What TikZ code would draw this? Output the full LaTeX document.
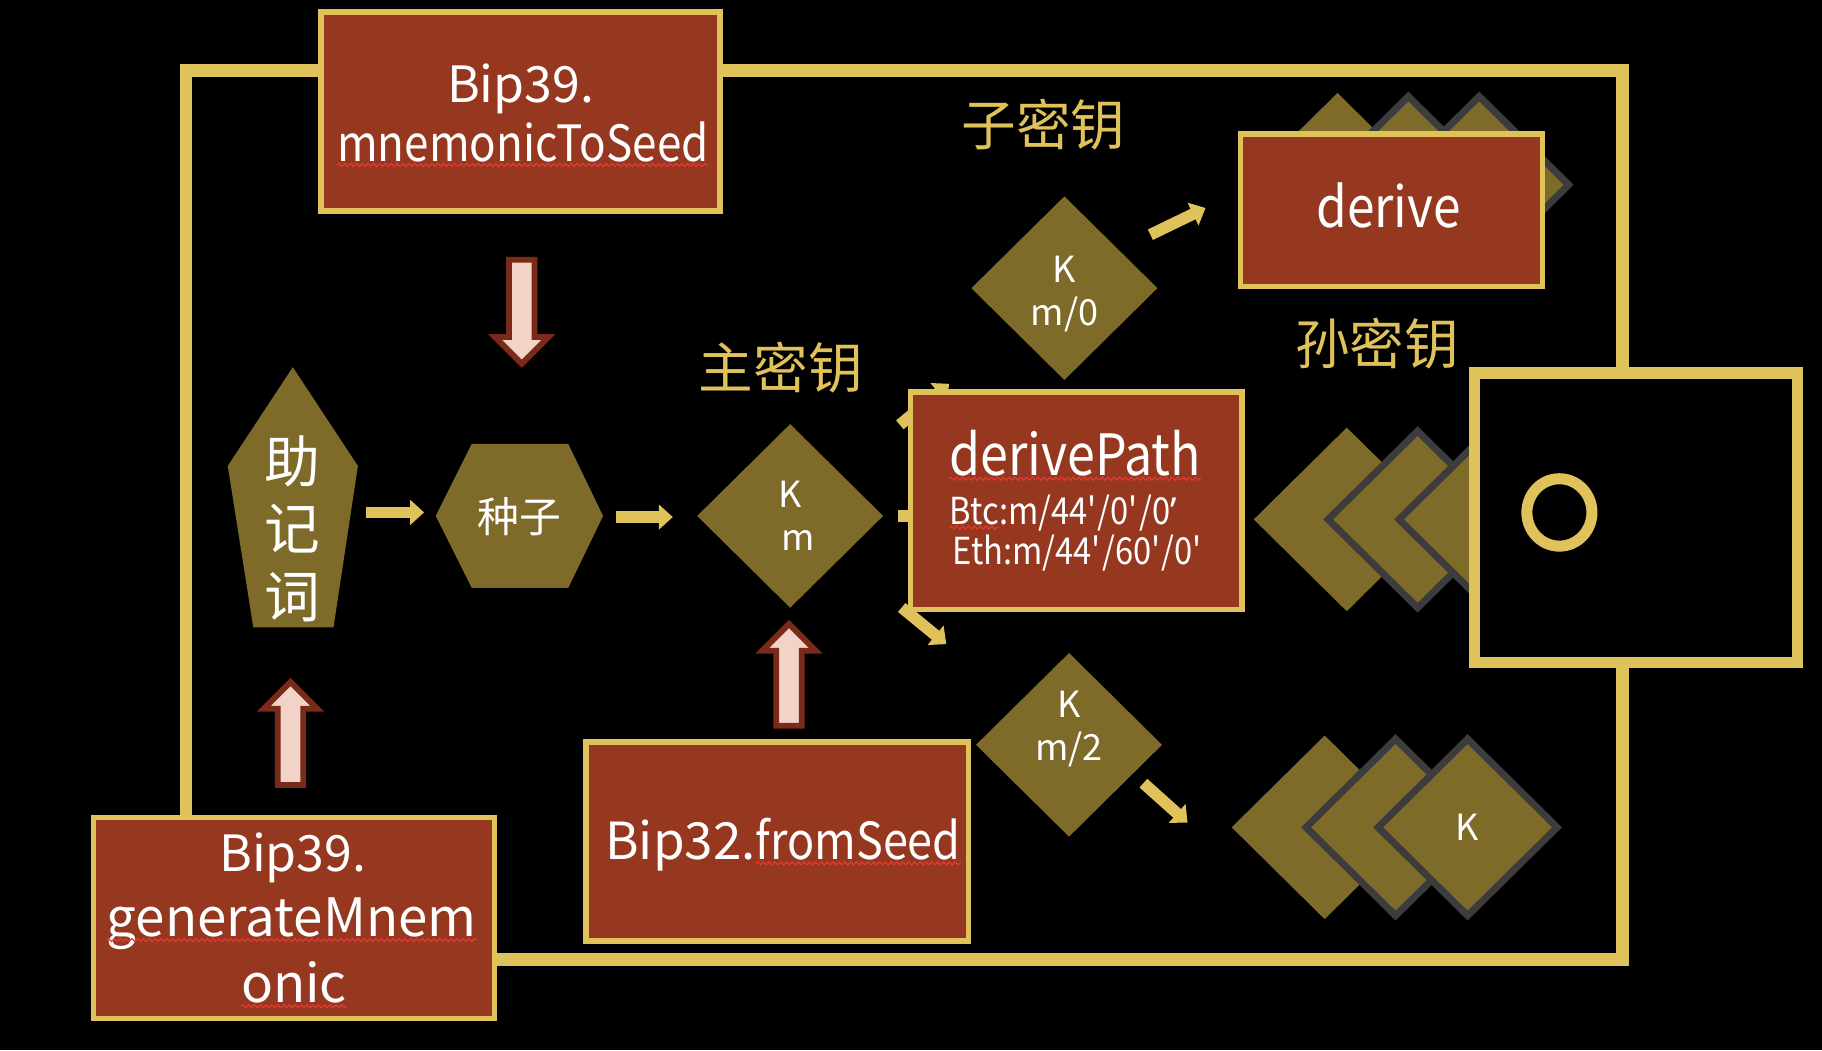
\documentclass[tikz,border=0pt]{standalone}
\usepackage{fontspec}
\setmainfont{Noto Sans CJK SC}
\newfontfamily\latinfont{Noto Sans}
\newfontfamily\narrowfont{Noto Sans CJK SC}[FakeStretch=0.88]
\usepackage{tikz}
\usetikzlibrary{positioning, arrows.meta, shapes.geometric, calc, decorations.pathmorphing}
\definecolor{gold}{HTML}{E0C25A}
\definecolor{brick}{HTML}{96381F}
\definecolor{olivebox}{HTML}{7E6A29}
\definecolor{slate}{HTML}{3C3C3C}
\definecolor{blush}{HTML}{F2D3C8}
\definecolor{rust}{HTML}{7A2A18}
\definecolor{spellred}{HTML}{E53935}
\tikzset{
  redbox/.style    = {rectangle, draw=gold, line width=5pt, fill=brick,
                      inner sep=0pt, outer sep=0pt},
  kdiam/.style     = {diamond, fill=olivebox, inner sep=0pt, outer sep=0pt,
                      minimum width=160pt, minimum height=158pt, text=white,
                      align=center, font=\fontsize{31}{37}\selectfont},
  kdiamo/.style    = {kdiam, draw=slate, line width=6pt,
                      minimum width=154pt, minimum height=152pt},
  wtxt/.style      = {text=white, inner sep=0pt, outer sep=0pt},
  ktxt/.style      = {wtxt, align=center, font=\fontsize{31}{37}\selectfont},
  gtxt/.style      = {text=gold, inner sep=0pt, font=\fontsize{47}{47}\selectfont},
  yarrow/.style    = {-{Triangle[length=12pt,width=21pt]}, draw=gold, line width=10pt},
  pinkarrow/.style = {draw=rust, fill=blush, line width=5pt, line join=miter},
  wavy/.style      = {draw=spellred, line width=1pt, decorate,
                      decoration={snake, amplitude=1.3pt, segment length=5pt}},
}
% #1 tail, #2 tip, #3 head length (signed)
\newcommand{\fatarrow}[3]{%
  \draw[pinkarrow] ($(#1)+(-11,0)$) -- ($(#2)+(-11,#3)$) -- ($(#2)+(-23,#3)$) -- (#2)
    -- ($(#2)+(23,#3)$) -- ($(#2)+(11,#3)$) -- ($(#1)+(11,0)$) -- cycle;}

\begin{document}
\begin{tikzpicture}[x=1pt, y=-1pt,
    plate/.style={fill=olivebox},
    shape area/.style={inner sep=0pt, outer sep=0pt},
  ]
  \path[use as bounding box, fill=black] (0,0) rectangle (1568,904);

  % outer loop
  \draw[draw=gold, line width=11pt] (160,61) rectangle (1396,826);

  % key stacks
  \node[kdiam]  (kt1) at (1151,159) {};
  \node[kdiamo] (kt2) at (1212,159) {};
  \node[kdiamo] (kt3) at (1273,159) {};
  \node[kdiam]  (kc1) at (1159,447) {};
  \node[kdiamo] (kc2) at (1220,447) {};
  \node[kdiamo] (kc3) at (1281,447) {};
  \node[kdiam]  (kb1) at (1140,712) {};
  \node[kdiamo] (kb2) at (1201,712) {};
  \node[kdiamo] (kb3) at (1263,712) {K};

  % mnemonic and seed
  \node[shape area, minimum width=112pt, minimum height=224pt] (mnem) at (252,428) {};
  \fill[plate] (mnem.north) -- ($(mnem.north east)+(0,85)$) -- ($(mnem.south east)+(-21,0)$)
    -- ($(mnem.south west)+(22,0)$) -- ($(mnem.north west)+(0,85)$) -- cycle;
  \node[wtxt, align=center, font=\fontsize{48}{58}\selectfont] (mnemtxt) at (252,455) {助\\记\\词};

  \node[shape area, minimum width=144pt, minimum height=124pt] (seed) at (447,444) {};
  \fill[plate] (seed.west) -- ($(seed.north west)+(31,0)$) -- ($(seed.north east)+(-30,0)$)
    -- (seed.east) -- ($(seed.south east)+(-30,0)$) -- ($(seed.south west)+(31,0)$) -- cycle;
  \node[wtxt, font=\fontsize{36}{36}\selectfont] (seedtxt) at (447,445) {种子};

  % keys
  \node[kdiam] (km)  at (680,444) {K\\\hspace*{14pt}m};
  \node[kdiam] (km0) at (916,248) {};
  \node[ktxt]  (km0txt) at (916,253) {K\\m/0};
  \node[kdiam] (km2) at (920,641) {};
  \node[ktxt]  (km2txt) at (920,627) {K\\m/2};

  % derive
  \node[redbox, minimum width=260pt, minimum height=131pt] (dv) at (1197.5,181) {};
  \node[wtxt, anchor=base, font=\narrowfont\fontsize{48.5}{48.5}\selectfont] (dvtxt) at (1195,196) {derive};

  % right panel
  \node[shape area, draw=gold, fill=black, line width=10pt, minimum width=278pt,
        minimum height=249pt] (ob) at (1408,445.5) {};
  \node[ellipse, shape area, draw=gold, line width=9.5pt, minimum width=56pt,
        minimum height=58pt] (ring) at (1342,441) {};

  % arrows
  \draw[yarrow] ($(mnem.east)+(7,13)$) -- ($(seed.west)+(-10,-3)$);
  \draw[yarrow] ($(seed.east)+(11,1)$) -- ($(km.west)+(-21,1)$);
  \draw[yarrow] ($(km.east)+(13,0)$) -- ($(km.east -| dv.west)+(-260,0)$);
  \draw[yarrow] ($(km)!0.40!(km0)$) -- ($(km)!0.58!(km0)$);
  \draw[yarrow] ($(km)!0.40!(km2)$) -- ($(km)!0.56!(km2)$);
  \draw[yarrow] ($(km0.east)+(-6,-46)$) -- ($(dv.west)+(-30,-2)$);
  \draw[yarrow] ($(km2.east)+(-16,33)$) -- ($(kb1.west)+(-38,-4)$);

  % derivePath
  \node[redbox, minimum width=285pt, minimum height=187pt] (dp) at (926,431) {};
  \node[wtxt, anchor=base west, font=\narrowfont\fontsize{49}{49}\selectfont] (dptxt) at (817,409) {derivePath};
  \node[wtxt, anchor=base west, font=\narrowfont\fontsize{32}{32}\selectfont] (btc) at (817,451) {Btc};
  \node[wtxt, anchor=base west, font=\narrowfont\fontsize{32}{32}\selectfont] (btcpath) at (btc.base east)
       {:m/44\textquotesingle/0\textquotesingle/0{\latinfont\textquoteright}};
  \node[wtxt, anchor=base west, font=\narrowfont\fontsize{32}{32}\selectfont] (eth) at (820,486)
       {Eth:m/44\textquotesingle/60\textquotesingle/0\textquotesingle};

  % bip boxes
  \node[redbox, minimum width=343pt, minimum height=171pt] (mts) at (448,96) {};
  \node[wtxt, anchor=base, font=\fontsize{43}{43}\selectfont] (mtsa) at (448,88) {Bip39.};
  \node[wtxt, anchor=base, font=\narrowfont\fontsize{43}{43}\selectfont] (mtsb) at (450,139) {mnemonicToSeed};

  \node[redbox, minimum width=345pt, minimum height=173pt] (gen) at (253,790) {};
  \node[wtxt, anchor=base, font=\fontsize{43}{43}\selectfont] (gena) at (252,750) {Bip39.};
  \node[wtxt, anchor=base, font=\fontsize{45.5}{45.5}\selectfont] (genb) at (251,806) {generateMnem};
  \node[wtxt, anchor=base, font=\fontsize{45.5}{45.5}\selectfont] (genc) at (253,863) {onic};

  \node[redbox, minimum width=329pt, minimum height=171pt] (b32) at (669,724) {};
  \node[wtxt, anchor=base west, font=\fontsize{44}{44}\selectfont] (b32a) at (521,740) {Bip32.};
  \node[wtxt, anchor=base west, font=\narrowfont\fontsize{44}{44}\selectfont] (b32b) at (b32a.base east) {fromSeed};

  % spell marks
  \draw[wavy] ($(mtsb.base west)+(0,3)$) -- ($(mtsb.base east)+(0,3)$);
  \draw[wavy] ($(genb.base west)+(0,3)$) -- ($(genb.base east)+(0,3)$);
  \draw[wavy] ($(genc.base west)+(0,3)$) -- ($(genc.base east)+(0,3)$);
  \draw[wavy] ($(dptxt.base west)+(0,3)$) -- ($(dptxt.base east)+(0,3)$);
  \draw[wavy] ($(btc.base west)+(0,3)$) -- ($(btc.base east)+(0,3)$);
  \draw[wavy] ($(b32b.base west)+(0,3)$) -- ($(b32b.base east)+(0,3)$);

  % pink arrows
  \coordinate (p1s) at ($(mts.south)+(1,42)$);
  \coordinate (p1e) at ($(p1s |- seed.north)+(0,-69)$);
  \fatarrow{p1s}{p1e}{-23}
  \coordinate (p2s) at ($(b32.north)+(10,-14)$);
  \coordinate (p2e) at ($(p2s |- km.south)+(0,14)$);
  \fatarrow{p2s}{p2e}{23}
  \coordinate (p3s) at ($(gen.north)+(-3,-28)$);
  \coordinate (p3e) at ($(p3s |- mnem.south)+(0,47)$);
  \fatarrow{p3s}{p3e}{23}

  % labels
  \node[gtxt] (sublbl)  at (898,107)  {子密钥};
  \node[gtxt] (mstlbl)  at (672,316)  {主密钥};
  \node[gtxt] (gsublbl) at (1185,296) {孙密钥};
\end{tikzpicture}
\end{document}
